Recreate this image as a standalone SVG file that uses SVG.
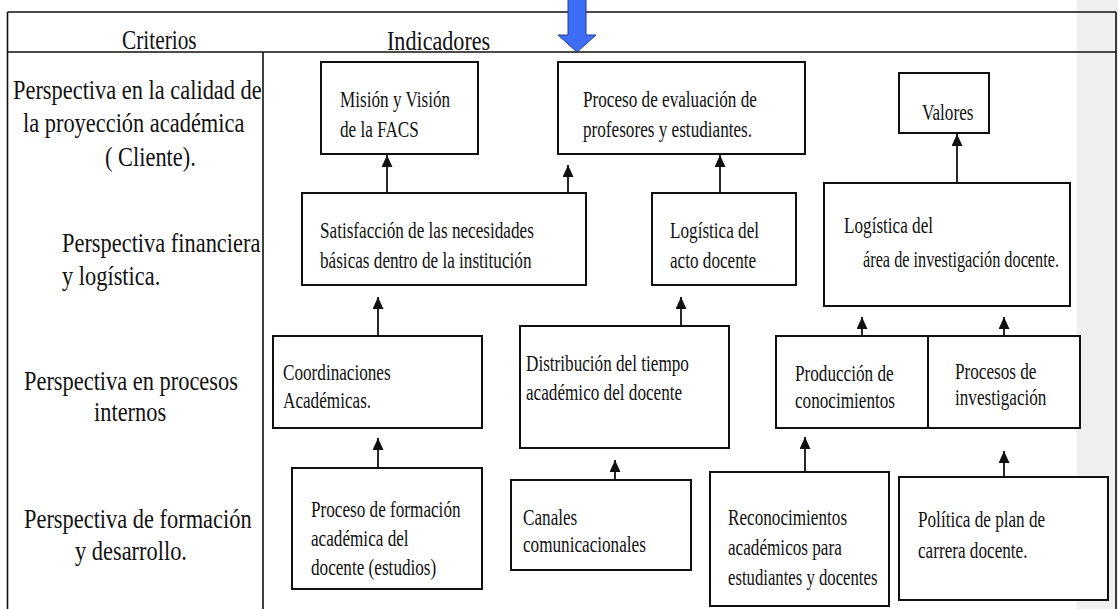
<svg xmlns="http://www.w3.org/2000/svg" width="1118" height="609" viewBox="0 0 1118 609" font-family="Liberation Serif, Times New Roman, serif">
<style>
.bg{fill:#ffffff}
.band{fill:#f0f0f0}
.frame{stroke:#111;stroke-width:1.6;fill:none}
.box{fill:#ffffff;stroke:#111;stroke-width:2}
text{font-family:"Liberation Serif","Times New Roman",Tinos,"DejaVu Serif",serif;fill:#111}
.hd{font-size:27px}
.lc{font-size:27px}
.bx{font-size:23px}
.conn{stroke:#111;stroke-width:1.8;fill:none;marker-end:url(#ah)}
</style>
<defs>
<marker id="ah" markerUnits="userSpaceOnUse" markerWidth="12" markerHeight="11" refX="12" refY="5.5" orient="auto">
<path d="M0,0 L12,5.5 L0,11 Z" fill="#111"/>
</marker>
</defs>
<rect class="bg" x="0" y="0" width="1118" height="609"/>
<rect class="band" x="1077" y="0" width="41" height="609"/>
<g id="frame">
<line class="frame" x1="7.5" y1="12" x2="1116" y2="12"/>
<line class="frame" x1="7.5" y1="52" x2="1116" y2="52"/>
<line class="frame" x1="7.5" y1="12" x2="7.5" y2="612"/>
<line class="frame" x1="263" y1="52" x2="263" y2="612"/>
<line class="frame" x1="1116" y1="12" x2="1116" y2="612"/>
<text class="hd" transform="translate(122,49) scale(0.79,1)">Criterios</text>
<text class="hd" transform="translate(387,50) scale(0.82,1)">Indicadores</text>
</g>
<g id="criterios">
<text class="lc" transform="translate(13,99) scale(0.83,1)">Perspectiva en la calidad de</text>
<text class="lc" transform="translate(23,132) scale(0.83,1)">la proyección académica</text>
<text class="lc" transform="translate(105,166) scale(0.83,1)">( Cliente).</text>
<text class="lc" transform="translate(62,252) scale(0.83,1)">Perspectiva financiera</text>
<text class="lc" transform="translate(62,285) scale(0.83,1)">y logística.</text>
<text class="lc" transform="translate(24,390) scale(0.83,1)">Perspectiva en procesos</text>
<text class="lc" transform="translate(94,421) scale(0.83,1)">internos</text>
<text class="lc" transform="translate(24,528) scale(0.83,1)">Perspectiva de formación</text>
<text class="lc" transform="translate(75,560) scale(0.83,1)">y desarrollo.</text>
</g>
<g id="blue-arrow">
<polygon points="568,-2 586,-2 586,35 596,35 577,52 558,35 568,35" fill="#3d6ef5" stroke="#1c3a9a" stroke-width="1"/>
</g>
<g id="mision">
<rect class="box" x="321" y="62" width="157" height="92"/>
<text class="bx" transform="translate(340,107) scale(0.746,1)">Misión y Visión</text>
<text class="bx" transform="translate(340,137) scale(0.746,1)">de la FACS</text>
</g>
<g id="evaluacion">
<rect class="box" x="558" y="62" width="247" height="92"/>
<text class="bx" transform="translate(583,107) scale(0.746,1)">Proceso de evaluación de</text>
<text class="bx" transform="translate(583,137) scale(0.746,1)">profesores y estudiantes.</text>
</g>
<g id="valores">
<rect class="box" x="899" y="73" width="90" height="60"/>
<text class="bx" transform="translate(922,120) scale(0.746,1)">Valores</text>
</g>
<g id="satisfaccion">
<rect class="box" x="302" y="193" width="284" height="92"/>
<text class="bx" transform="translate(320,238) scale(0.746,1)">Satisfacción de las necesidades</text>
<text class="bx" transform="translate(320,268) scale(0.746,1)">básicas dentro de la institución</text>
</g>
<g id="logistica-acto">
<rect class="box" x="652" y="193" width="144" height="92"/>
<text class="bx" transform="translate(670,238) scale(0.746,1)">Logística del</text>
<text class="bx" transform="translate(670,268) scale(0.746,1)">acto docente</text>
</g>
<g id="logistica-area">
<rect class="box" x="824" y="183" width="246" height="123"/>
<text class="bx" transform="translate(844,233) scale(0.746,1)">Logística del</text>
<text class="bx" transform="translate(863,267) scale(0.708,1)">área de investigación docente.</text>
</g>
<g id="coordinaciones">
<rect class="box" x="273" y="336" width="209" height="92"/>
<text class="bx" transform="translate(283,380) scale(0.746,1)">Coordinaciones</text>
<text class="bx" transform="translate(283,408) scale(0.746,1)">Académicas.</text>
</g>
<g id="distribucion">
<rect class="box" x="520" y="326" width="209" height="122"/>
<text class="bx" transform="translate(526,371) scale(0.746,1)">Distribución del tiempo</text>
<text class="bx" transform="translate(526,400) scale(0.746,1)">académico del docente</text>
</g>
<g id="produccion">
<rect class="box" x="776" y="336" width="152" height="92"/>
<text class="bx" transform="translate(795,381) scale(0.746,1)">Producción de</text>
<text class="bx" transform="translate(795,408) scale(0.746,1)">conocimientos</text>
</g>
<g id="procesos-investigacion">
<rect class="box" x="928" y="336" width="152" height="92"/>
<text class="bx" transform="translate(955,379) scale(0.746,1)">Procesos de</text>
<text class="bx" transform="translate(955,405) scale(0.746,1)">investigación</text>
</g>
<g id="formacion">
<rect class="box" x="292" y="468" width="190" height="121"/>
<text class="bx" transform="translate(311,517) scale(0.746,1)">Proceso de formación</text>
<text class="bx" transform="translate(311,546) scale(0.746,1)">académica del</text>
<text class="bx" transform="translate(311,575) scale(0.746,1)">docente (estudios)</text>
</g>
<g id="canales">
<rect class="box" x="511" y="480" width="180" height="90"/>
<text class="bx" transform="translate(523,525) scale(0.746,1)">Canales</text>
<text class="bx" transform="translate(523,552) scale(0.746,1)">comunicacionales</text>
</g>
<g id="reconocimientos">
<rect class="box" x="710" y="472" width="179" height="134"/>
<text class="bx" transform="translate(728,525) scale(0.746,1)">Reconocimientos</text>
<text class="bx" transform="translate(728,555) scale(0.746,1)">académicos para</text>
<text class="bx" transform="translate(728,585) scale(0.727,1)">estudiantes y docentes</text>
</g>
<g id="politica">
<rect class="box" x="899" y="477" width="209" height="123"/>
<text class="bx" transform="translate(918,527) scale(0.746,1)">Política de plan de</text>
<text class="bx" transform="translate(918,558) scale(0.746,1)">carrera docente.</text>
</g>
<g id="connectors">
<line class="conn" x1="387" y1="193" x2="387" y2="155"/>
<line class="conn" x1="568" y1="193" x2="568" y2="165"/>
<line class="conn" x1="720" y1="193" x2="720" y2="155"/>
<line class="conn" x1="957" y1="183" x2="957" y2="134"/>
<line class="conn" x1="378" y1="336" x2="378" y2="297"/>
<line class="conn" x1="681" y1="326" x2="681" y2="297"/>
<line class="conn" x1="862" y1="336" x2="862" y2="317"/>
<line class="conn" x1="1004" y1="336" x2="1004" y2="317"/>
<line class="conn" x1="378" y1="468" x2="378" y2="438"/>
<line class="conn" x1="615" y1="480" x2="615" y2="460"/>
<line class="conn" x1="805" y1="472" x2="805" y2="437"/>
<line class="conn" x1="1004" y1="477" x2="1004" y2="451"/>
</g>
</svg>
